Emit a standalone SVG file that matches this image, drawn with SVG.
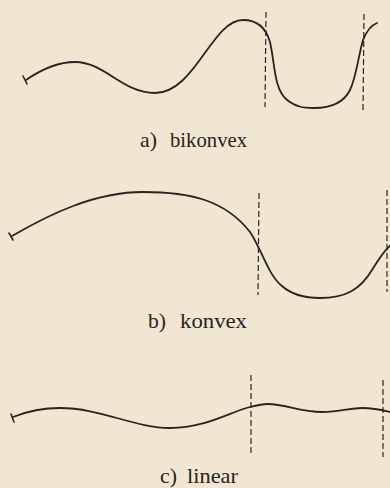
<svg xmlns="http://www.w3.org/2000/svg" width="390" height="488" viewBox="0 0 390 488">
<style>
.curve{fill:none;stroke:#2a2420;stroke-width:1.8;stroke-linecap:round;stroke-linejoin:round}
.tick{fill:none;stroke:#2a2420;stroke-width:1.6;stroke-linecap:round}
.dash{fill:none;stroke:#2a2420;stroke-width:1.2;stroke-dasharray:6 3}
.lbl{font-family:"Liberation Serif","DejaVu Serif",serif;font-size:21px;fill:#2a2420}
</style>
<rect width="390" height="488" fill="#F0E6D2"/>
<g id="panel-a">
<path class="curve" d="M26,80 C42,69 58,62 75,62 C105,62 122,93 155,93 C195,93 212,20 243,20 C258,20 266,28 270,42 C275,64 274,88 286,99 C295,107 304,108 314,108 C330,108 343,104 350,90 C356,78 358,58 363,40 C367,30 372,25 377,23"/>
<line class="tick" x1="23" y1="76" x2="27" y2="84"/>
<line class="dash" x1="266" y1="12" x2="265" y2="107"/>
<line class="dash" x1="364" y1="14" x2="363" y2="110"/>
<text class="lbl" y="147"><tspan x="140" textLength="17" lengthAdjust="spacingAndGlyphs">a)</tspan><tspan x="170" textLength="77" lengthAdjust="spacingAndGlyphs">bikonvex</tspan></text>
</g>
<g id="panel-b">
<path class="curve" d="M12,236 C50,214 95,192 143,192 C190,192 225,200 250,232 C262,250 268,275 282,286 C292,295 305,298 320,298 C345,298 360,290 372,270 C378,260 384,250 392,244"/>
<line class="tick" x1="9" y1="233" x2="13" y2="240"/>
<line class="dash" x1="259" y1="193" x2="258" y2="295"/>
<line class="dash" x1="387" y1="190" x2="387" y2="292"/>
<text class="lbl" y="328"><tspan x="148" textLength="18" lengthAdjust="spacingAndGlyphs">b)</tspan><tspan x="180" textLength="67" lengthAdjust="spacingAndGlyphs">konvex</tspan></text>
</g>
<g id="panel-c">
<path class="curve" d="M13,417 C28,411 45,408 60,408 C100,408 135,428 170,428 C205,428 230,412 250,407 C258,405 262,404 268,404 C285,404 300,412 322,412 C340,412 350,408 362,408 C375,408 382,410 390,412"/>
<line class="tick" x1="11" y1="414" x2="14" y2="422"/>
<line class="dash" x1="251" y1="375" x2="251" y2="455"/>
<line class="dash" x1="383" y1="380" x2="383" y2="457"/>
<text class="lbl" y="483"><tspan x="160" textLength="17" lengthAdjust="spacingAndGlyphs">c)</tspan><tspan x="187" textLength="51" lengthAdjust="spacingAndGlyphs">linear</tspan></text>
</g>
</svg>
